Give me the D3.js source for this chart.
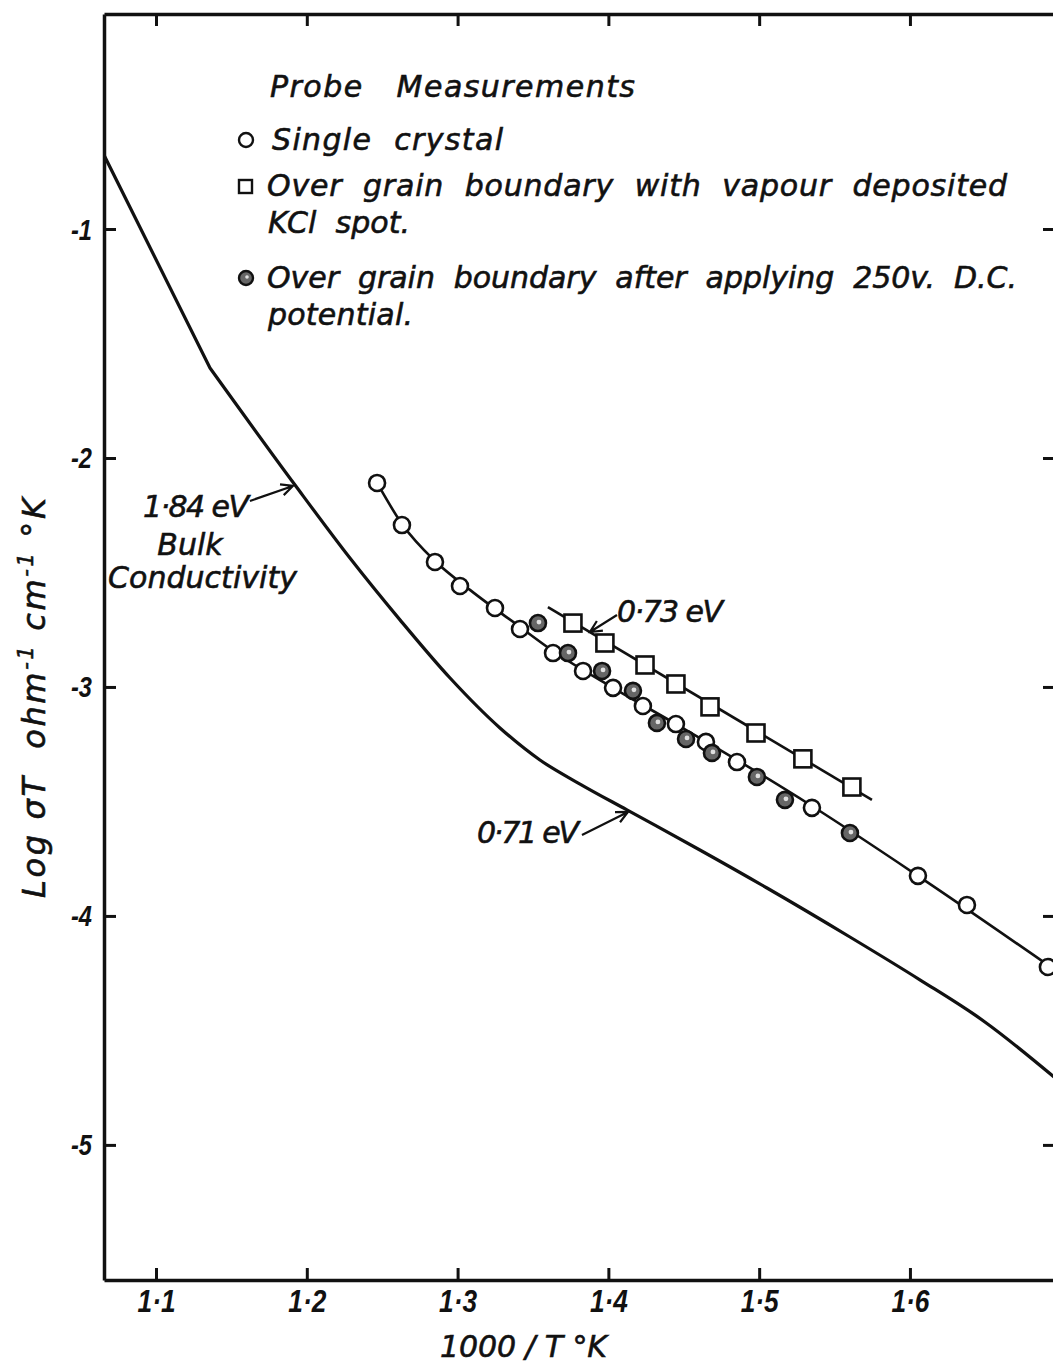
<!DOCTYPE html>
<html>
<head>
<meta charset="utf-8">
<script src="https://cdn.jsdelivr.net/npm/d3@7"></script>
<style>
  html, body { margin: 0; padding: 0; background: #fff; }
  svg { display: block; }
  .lab { font-family: "DejaVu Sans", sans-serif; font-style: italic; font-size: 30px; fill: #111; stroke: #111; stroke-width: 0.6px; white-space: pre; }
  .tick-lab { font-family: "Liberation Sans", Arial, sans-serif; font-style: italic; font-weight: bold; fill: #111; }
</style>
</head>
<body>
<svg id="chart" width="1053" height="1363"></svg>
<script>
// Axis ticks
const xTicks = [1.1, 1.2, 1.3, 1.4, 1.5, 1.6];
const yTicks = [-1, -2, -3, -4, -5];

// Bulk conductivity curve (1000/T, log σT); the first segment meets the rest at a kink
const bulkCurve = [
  [1.0655, -0.677], [1.1358, -1.607], [1.1922, -2.118], [1.2286, -2.437],
  [1.2618, -2.707], [1.2950, -2.961], [1.3281, -3.179], [1.3546, -3.319],
  [1.3812, -3.424], [1.4123, -3.537], [1.4607, -3.712], [1.5052, -3.878],
  [1.5602, -4.092], [1.6066, -4.279], [1.6497, -4.463], [1.6962, -4.707]
];

// Probe measurements: single crystal
const singleCrystal = [
  [1.2466, -2.109], [1.2631, -2.293], [1.2850, -2.454], [1.3016, -2.559],
  [1.3248, -2.655], [1.3414, -2.747], [1.3633, -2.852], [1.3832, -2.930],
  [1.4031, -3.004], [1.4229, -3.083], [1.4448, -3.162], [1.4647, -3.240],
  [1.4853, -3.328], [1.5350, -3.528], [1.6053, -3.825], [1.6378, -3.952],
  [1.6915, -4.223]
];
const singleFit = [
  [1.2466, -2.109], [1.2631, -2.288], [1.2850, -2.450], [1.3082, -2.576],
  [1.3414, -2.738], [1.3633, -2.843], [1.4031, -3.004], [1.4448, -3.162],
  [1.4853, -3.319], [1.5350, -3.520], [1.6053, -3.825], [1.6962, -4.236]
];

// Over grain boundary with vapour deposited KCl spot
const kclSpot = [
  [1.3765, -2.721], [1.3977, -2.808], [1.4243, -2.904], [1.4448, -2.987],
  [1.4674, -3.087], [1.4979, -3.201], [1.5290, -3.314], [1.5615, -3.437]
];
const kclFit = [[1.3599, -2.651], [1.5748, -3.493]];

// Over grain boundary after applying 250 V D.C.
const afterDC = [
  [1.3533, -2.721], [1.3732, -2.852], [1.3958, -2.930], [1.4163, -3.017],
  [1.4322, -3.157], [1.4515, -3.227], [1.4687, -3.288], [1.4985, -3.393],
  [1.5171, -3.493], [1.5602, -3.638]
];

// Activation-energy notes, pointing at a point on a curve
const notes = [
  { text: "1·84 eV", at: [1.1908, -2.122] },
  { text: "0·73 eV", at: [1.3878, -2.760] },
  { text: "0·71 eV", at: [1.4130, -3.546] }
];

const legendTitle = "Probe   Measurements";
const legendLines = [
  "Single  crystal",
  "Over  grain  boundary  with  vapour  deposited",
  "KCl  spot.",
  "Over  grain  boundary  after  applying  250v.  D.C.",
  "potential."
];

const svg = d3.select("#chart");
const L = 104, R = 1055, T = 14, B = 1280;
const x = d3.scaleLinear().domain([1.0655, 1.6962]).range([L, R]);
const y = d3.scaleLinear().domain([-0.061, -5.59]).range([T, B]);
const ink = "#111";

svg.append("rect").attr("width", 1053).attr("height", 1363).attr("fill", "#fff");

svg.append("clipPath").attr("id", "plot")
  .append("rect").attr("x", L).attr("y", T).attr("width", R - L).attr("height", B - T);

const fmtX = d => d.toFixed(1).replace(".", "·");
const fmtY = d => String(d);

function styleAxis(g) {
  g.select(".domain").attr("stroke", ink).attr("stroke-width", 3.5);
  g.selectAll(".tick line").attr("stroke", ink).attr("stroke-width", 3);
}

// Frame with inward ticks on all four sides
const gB = svg.append("g").attr("transform", `translate(0,${B})`)
  .call(d3.axisBottom(x).tickValues(xTicks).tickSize(-12).tickSizeOuter(0).tickFormat(fmtX));
styleAxis(gB);
gB.selectAll(".tick text").attr("class", "tick-lab").attr("font-size", 31)
  .attr("y", 32).attr("dy", 0).attr("textLength", 38).attr("lengthAdjust", "spacingAndGlyphs");

const gT = svg.append("g").attr("transform", `translate(0,${T})`)
  .call(d3.axisTop(x).tickValues(xTicks).tickSize(-12).tickSizeOuter(0).tickFormat(""));
styleAxis(gT);

const gL = svg.append("g").attr("transform", `translate(${L},0)`)
  .call(d3.axisLeft(y).tickValues(yTicks).tickSize(-12).tickSizeOuter(0).tickFormat(fmtY));
styleAxis(gL);
gL.selectAll(".tick text").attr("class", "tick-lab").attr("font-size", 29)
  .attr("x", -12).attr("dy", 0).attr("y", 10).attr("textLength", 21).attr("lengthAdjust", "spacingAndGlyphs");

const gR = svg.append("g").attr("transform", `translate(${R},0)`)
  .call(d3.axisRight(y).tickValues(yTicks).tickSize(-12).tickSizeOuter(0).tickFormat(""));
styleAxis(gR);

// Axis titles
svg.append("text").attr("class", "lab")
  .attr("x", 440).attr("y", 1357).attr("textLength", 167).attr("lengthAdjust", "spacing")
  .text("1000 / T °K");

const yTitle = svg.append("text").attr("class", "lab")
  .attr("transform", "translate(45,898) rotate(-90)")
  .attr("textLength", 400).attr("lengthAdjust", "spacing")
  .style("font-size", "32px");
yTitle.append("tspan").text("Log σT  ohm");
yTitle.append("tspan").attr("font-size", 21).attr("baseline-shift", "super").text("-1");
yTitle.append("tspan").text(" cm");
yTitle.append("tspan").attr("font-size", 21).attr("baseline-shift", "super").text("-1");
yTitle.append("tspan").text(" °K");

// Curves
const plot = svg.append("g").attr("clip-path", "url(#plot)");
const xy = d3.line().x(d => x(d[0])).y(d => y(d[1]));
const smooth = d3.line().x(d => x(d[0])).y(d => y(d[1])).curve(d3.curveMonotoneX);

plot.append("path").attr("d", xy(bulkCurve.slice(0, 2)) + smooth(bulkCurve.slice(1)).replace(/^M/, "L"))
  .attr("fill", "none").attr("stroke", ink).attr("stroke-width", 3.2).attr("stroke-linejoin", "round");
plot.append("path").datum(singleFit).attr("d", smooth)
  .attr("fill", "none").attr("stroke", ink).attr("stroke-width", 2.6);
plot.append("path").datum(kclFit).attr("d", xy)
  .attr("fill", "none").attr("stroke", ink).attr("stroke-width", 2.6);

// Markers
const rad = 8, side = 17;
plot.selectAll("rect.kcl").data(kclSpot).join("rect").attr("class", "kcl")
  .attr("x", d => x(d[0]) - side / 2).attr("y", d => y(d[1]) - side / 2)
  .attr("width", side).attr("height", side)
  .attr("fill", "#fff").attr("stroke", ink).attr("stroke-width", 2.6);

plot.selectAll("circle.single").data(singleCrystal).join("circle").attr("class", "single")
  .attr("cx", d => x(d[0])).attr("cy", d => y(d[1])).attr("r", rad)
  .attr("fill", "#fff").attr("stroke", ink).attr("stroke-width", 2.6);

const dcG = plot.selectAll("g.dc").data(afterDC).join("g").attr("class", "dc")
  .attr("transform", d => `translate(${x(d[0])},${y(d[1])})`);
dcG.append("circle").attr("r", rad).attr("fill", "#666").attr("stroke", ink).attr("stroke-width", 2.6);
dcG.append("circle").attr("r", 2.4).attr("cx", 1).attr("cy", -1).attr("fill", "#e0e0e0");

// Legend
svg.append("text").attr("class", "lab").attr("x", 270).attr("y", 97)
  .attr("textLength", 365).attr("lengthAdjust", "spacing").text(legendTitle);

const legendPos = [
  { x: 272, y: 150, w: 231 },
  { x: 267, y: 196, w: 740 },
  { x: 268, y: 233, w: 142 },
  { x: 267, y: 288, w: 750 },
  { x: 268, y: 325, w: 145 }
];
legendLines.forEach((t, i) => {
  const p = legendPos[i];
  svg.append("text").attr("class", "lab").attr("x", p.x).attr("y", p.y)
    .attr("textLength", p.w).attr("lengthAdjust", "spacing").text(t);
});
svg.append("circle").attr("cx", 246).attr("cy", 140).attr("r", 7)
  .attr("fill", "#fff").attr("stroke", ink).attr("stroke-width", 2.4);
svg.append("rect").attr("x", 239).attr("y", 180).attr("width", 13).attr("height", 13)
  .attr("fill", "#fff").attr("stroke", ink).attr("stroke-width", 2.4);
svg.append("circle").attr("cx", 246).attr("cy", 278).attr("r", 7)
  .attr("fill", "#666").attr("stroke", ink).attr("stroke-width", 2.4);
svg.append("circle").attr("cx", 247).attr("cy", 277).attr("r", 1.8).attr("fill", "#e0e0e0");

// Notes with open arrowheads
function arrow(x0, y0, x1, y1) {
  const a = Math.atan2(y1 - y0, x1 - x0), h = 13, s = 0.45;
  const p = d3.path();
  p.moveTo(x0, y0); p.lineTo(x1, y1);
  p.moveTo(x1 - h * Math.cos(a - s), y1 - h * Math.sin(a - s));
  p.lineTo(x1, y1);
  p.lineTo(x1 - h * Math.cos(a + s), y1 - h * Math.sin(a + s));
  svg.append("path").attr("d", p.toString()).attr("fill", "none")
    .attr("stroke", ink).attr("stroke-width", 2.2).attr("stroke-linejoin", "miter");
}
const noteStyle = [
  { dx: -43, dy: 15, tx: 143, ty: 517, w: 106 },
  { dx: 27, dy: -17, tx: 617, ty: 622, w: 106 },
  { dx: -46, dy: 23, tx: 477, ty: 843, w: 102 }
];
notes.forEach((n, i) => {
  const s = noteStyle[i];
  const px = x(n.at[0]), py = y(n.at[1]);
  arrow(px + s.dx, py + s.dy, px, py);
  svg.append("text").attr("class", "lab").attr("x", s.tx).attr("y", s.ty)
    .attr("textLength", s.w).attr("lengthAdjust", "spacing").text(n.text);
});
svg.append("text").attr("class", "lab").attr("x", 190).attr("y", 555)
  .attr("text-anchor", "middle").text("Bulk");
svg.append("text").attr("class", "lab").attr("x", 108).attr("y", 588)
  .attr("textLength", 189).attr("lengthAdjust", "spacing").text("Conductivity");
</script>
</body>
</html>
